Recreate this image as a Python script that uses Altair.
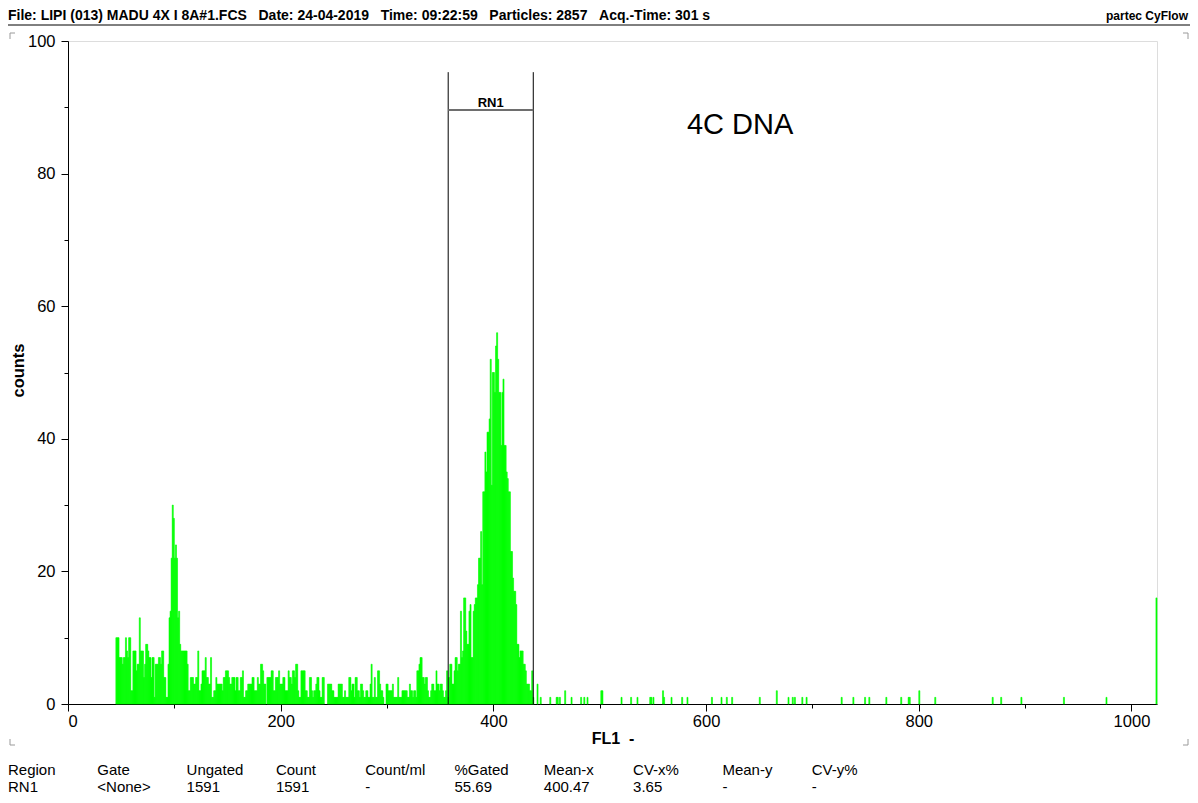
import altair as alt
import pandas as pd

# ---------------- data ----------------
seg_a_start = 45
seg_a = [10, 10, 10, 7, 7, 7, 6, 7, 7, 10,
         8, 7, 10, 10, 2, 2, 8, 8, 8, 5,
         6, 6, 13, 8, 8, 8, 4, 6, 9, 9,
         8, 7, 7, 4, 7, 7, 1, 6, 6, 6,
         7, 7, 6, 8, 8, 4, 4, 1, 1, 6,
         13, 14, 22, 30, 28, 22, 24, 22, 13, 14,
         9, 8, 8, 8]
seg_b_start = 109
seg_b = [8, 8, 8, 6, 2, 2, 4, 4, 4, 3,
         3, 4, 4, 8, 2, 2, 3, 5, 5, 5,
         7, 4, 4, 3, 3, 7, 1, 1, 2, 2,
         4, 3, 3, 3, 3, 3, 2, 4, 4, 5,
         5, 5, 4, 3, 3, 4, 4, 4, 2, 4,
         4, 2, 2, 4, 4, 5, 1, 1, 2, 2,
         3, 3, 3, 3, 4, 4, 2, 2, 2, 4,
         3, 3, 6, 6, 5, 3, 3, 0, 4, 4,
         4, 4, 5, 5, 2, 2, 4, 4, 4, 5,
         3, 3, 3, 4, 4, 2, 2, 2, 5]
seg_c_start = 208
seg_c = [4, 4, 3, 5, 5, 4, 6, 6, 2, 1,
         1, 5, 5, 5, 5, 2, 2, 1, 1, 4,
         4, 2, 1, 2, 2, 3, 4, 4, 2, 1,
         1, 4, 4, 0, 0, 0, 3, 3, 3, 3,
         2, 2, 1, 1, 1, 1, 3, 3, 3, 3,
         1, 1, 2, 1, 1, 1, 4, 4, 2, 3,
         3, 1, 4, 4, 2, 2, 1, 3, 3, 2,
         1, 1, 2, 2, 1, 1, 3, 6, 1, 1,
         4, 1, 1, 5, 5, 3, 2, 2, 1, 0,
         0, 3, 3, 2, 2, 2, 2, 3, 1, 1,
         1, 1, 4, 1, 1, 1, 2, 2, 2, 2,
         2, 1, 1, 3, 2, 2, 1, 2, 2, 1,
         5, 5, 6, 7, 7, 4, 4, 3, 4, 4,
         2, 1, 1, 2, 3, 3, 2, 2, 5, 3,
         3, 2, 3, 3, 2, 1, 1]
seg_d_start = 355
seg_d = [2, 5, 1, 4, 6, 6, 3, 3, 5, 7,
         7, 5, 6, 6, 14, 7, 8, 16, 16, 11,
         9, 9, 14, 15, 7, 7, 14, 15, 16, 16,
         18, 22, 22, 26, 18, 32, 32, 38, 35, 41,
         41, 43, 52, 33, 50, 50, 47, 54, 56, 52,
         47, 47, 39, 47, 49, 39, 39, 35, 34, 32,
         32, 23, 23, 19, 17, 17, 15, 9, 9, 7,
         8, 8, 8, 6, 6, 5, 3, 3, 3, 2,
         2, 5, 1, 0, 0, 0, 3, 0, 0, 1]

sparse_channels = [453, 459, 460, 462, 467, 473, 482, 485, 488, 501, 502, 520, 529,
                   535, 547, 548, 550, 559, 560, 567, 577, 582, 605, 614, 619, 624,
                   650, 666, 677, 681, 683, 690, 694, 727, 738, 749, 753, 769, 783,
                   790, 791, 800, 815, 869, 877, 896, 936, 976, 1023]
sparse_counts = [1, 1, 1, 1, 2, 1, 1, 1, 1, 2, 2, 1, 1,
                 1, 1, 1, 1, 2, 1, 1, 1, 1, 1, 1, 1, 1,
                 1, 2, 1, 1, 1, 1, 1, 1, 1, 1, 1, 1, 1,
                 1, 1, 2, 1, 1, 1, 1, 1, 1, 16]

region_name = "RN1"
region_left = 357.5
region_right = 437.5
region_top = 95.3
region_bar = 89.6

annot_text = "4C DNA"
annot_x = 632
annot_y = 87.3

header_text = ("File: LIPI (013) MADU 4X I 8A#1.FCS   Date: 24-04-2019   Time: 09:22:59   "
               "Particles: 2857   Acq.-Time: 301 s")
brand_text = "partec CyFlow"

table_headers = ["Region", "Gate", "Ungated", "Count", "Count/ml", "%Gated",
                 "Mean-x", "CV-x%", "Mean-y", "CV-y%"]
table_values = ["RN1", "<None>", "1591", "1591", "-", "55.69",
                "400.47", "3.65", "-", "-"]

x_label = "FL1  -"
y_label = "counts"

# ---------------- build table ----------------
rows = []
for start, seg in [(seg_a_start, seg_a), (seg_b_start, seg_b),
                   (seg_c_start, seg_c), (seg_d_start, seg_d)]:
    for i, c in enumerate(seg):
        rows.append((start + i, c))
for ch, c in zip(sparse_channels, sparse_counts):
    rows.append((ch, c))
df = pd.DataFrame(rows, columns=["channel", "count"])
df = df[df["count"] > 0]

FONT = "Liberation Sans"
W, H = 1089, 663
NB = "\u00a0"

xscale = alt.Scale(domain=[0, 1024], nice=False, zero=False)
yscale = alt.Scale(domain=[0, 100], nice=False, zero=True)

x_axis = alt.Axis(values=list(range(0, 1001, 100)), format="d",
                  labelExpr="datum.value % 200 === 0 ? datum.label : ''",
                  grid=False, domainColor="black", tickColor="black",
                  tickSize={"condition": {"test": "datum.value % 200 === 0", "value": 7}, "value": 4},
                  labelFont=FONT, labelFontSize=16.5, labelColor="black", labelPadding=2,
                  title=x_label.replace(" ", NB), titleFont=FONT, titleFontSize=16,
                  titleFontWeight="bold", titleColor="black", titleY=34,
                  titleBaseline="middle")
y_axis = alt.Axis(values=list(range(0, 101, 10)), format="d",
                  labelExpr="datum.value % 20 === 0 ? datum.label : ''",
                  grid=False, domainColor="black", tickColor="black",
                  tickSize={"condition": {"test": "datum.value % 20 === 0", "value": 7}, "value": 4},
                  labelFont=FONT, labelFontSize=16.5, labelColor="black", labelPadding=6,
                  title=y_label, titleFont=FONT, titleFontSize=16.5, titleFontWeight="bold",
                  titleColor="black", titleX=-50, titleY=329, titleBaseline="middle",
                  titleAlign="center")

bars = alt.Chart(df).transform_calculate(
    ch2="datum.channel + 1"
).mark_rect(color="#00ff00", stroke="#00ff00", strokeWidth=0.6).encode(
    x=alt.X("channel:Q", scale=xscale, axis=x_axis),
    x2="ch2:Q",
    y=alt.Y("count:Q", scale=yscale, axis=y_axis),
)

reg_df = pd.DataFrame({"name": [region_name], "left": [region_left], "right": [region_right],
                       "top": [region_top], "bar": [region_bar],
                       "mid": [(region_left + region_right) / 2]})
base_reg = alt.Chart(reg_df)
reg_l = base_reg.mark_rule(color="black", strokeWidth=1).encode(
    x=alt.X("left:Q", scale=xscale), y=alt.Y("top:Q", scale=yscale), y2=alt.datum(0))
reg_r = base_reg.mark_rule(color="black", strokeWidth=1).encode(
    x=alt.X("right:Q", scale=xscale), y=alt.Y("top:Q", scale=yscale), y2=alt.datum(0))
reg_h = base_reg.mark_rule(color="#6e6e6e", strokeWidth=2).encode(
    x=alt.X("left:Q", scale=xscale), x2="right:Q", y=alt.Y("bar:Q", scale=yscale))
reg_t = base_reg.mark_text(font=FONT, fontSize=13, fontWeight="bold", baseline="bottom",
                           color="black").encode(
    x=alt.X("mid:Q", scale=xscale), y=alt.Y("bar:Q", scale=yscale), text="name:N")

annot = alt.Chart(pd.DataFrame({"t": [annot_text], "x": [annot_x], "y": [annot_y]})).mark_text(
    font=FONT, fontSize=29, color="black", baseline="middle", align="center").encode(
    x=alt.X("x:Q", scale=xscale), y=alt.Y("y:Q", scale=yscale), text="t:N")

header = alt.Chart(pd.DataFrame({"t": [header_text.replace(" ", NB)]})).mark_text(
    font=FONT, fontSize=14, fontWeight="bold", align="left", baseline="alphabetic",
    color="black").encode(x=alt.value(-60), y=alt.value(-21), text="t:N")
brand = alt.Chart(pd.DataFrame({"t": [brand_text]})).mark_text(
    font=FONT, fontSize=12, fontWeight="bold", align="right", baseline="alphabetic",
    color="black").encode(x=alt.value(1120), y=alt.value(-21), text="t:N")
one = pd.DataFrame({"k": [0]})
underline = alt.Chart(one).mark_rule(color="black", strokeWidth=1).encode(
    x=alt.value(-60), x2=alt.value(1122), y=alt.value(-16), y2=alt.value(-16))

corner_layers = []
corner_specs = [(-58, -8, 5, 6), (1120, -8, -5, 6), (-58, 704, 5, -6), (1120, 704, -5, -6)]
for cx, cy, dxx, dyy in corner_specs:
    corner_layers.append(alt.Chart(one).mark_rule(color="#9a9a9a", strokeWidth=1).encode(
        x=alt.value(cx), x2=alt.value(cx + dxx), y=alt.value(cy), y2=alt.value(cy)))
    corner_layers.append(alt.Chart(one).mark_rule(color="#9a9a9a", strokeWidth=1).encode(
        x=alt.value(cx), x2=alt.value(cx), y=alt.value(cy), y2=alt.value(cy + dyy)))

table_layers = []
for i, (h, v) in enumerate(zip(table_headers, table_values)):
    table_layers.append(alt.Chart(pd.DataFrame({"t": [h + "\n" + v]})).mark_text(
        font=FONT, fontSize=15, align="left", baseline="middle", lineBreak="\n",
        lineHeight=17, color="black").encode(
        x=alt.value(-60 + i * 89.3), y=alt.value(728.5), text="t:N"))

chart = alt.layer(bars, reg_l, reg_r, reg_h, reg_t, annot, header, brand, underline,
                  *corner_layers, *table_layers).properties(
    width=W, height=H,
    padding={"left": 60, "top": 33, "right": 33, "bottom": 90},
    autosize=alt.AutoSizeParams(type="none"),
).configure_view(stroke="black", strokeWidth=1).configure(background="white")

chart.save("out.html", embed_options={"renderer": "svg", "actions": False})
